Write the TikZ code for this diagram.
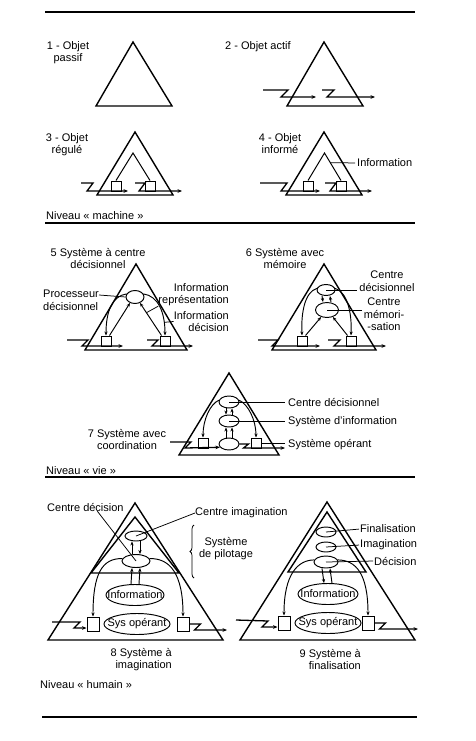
\documentclass[tikz,border=0pt]{standalone}
\usepackage{fontspec}
\setmainfont{Liberation Sans}
\usepackage{tikz}
\usetikzlibrary{arrows.meta,shapes.geometric,decorations.pathreplacing}

\begin{document}
\begin{tikzpicture}[
  x=1pt,y=-1pt,
  tri/.style={draw,line width=1.4pt,line join=miter},
  rulebar/.style={line width=1.6pt},
  flow/.style={line width=1.3pt,-{Stealth[length=4.5pt,width=3.6pt]}},
  link/.style={line width=.95pt,-{Stealth[length=4pt,width=3.2pt]}},
  lead/.style={line width=.75pt},
  cell/.style={draw,fill=white,line width=1pt,inner sep=0pt,
    minimum width=10pt,minimum height=10pt},
  bubble/.style={draw,ellipse,fill=white,line width=.95pt,inner sep=0pt},
  txt/.style={font=\fontsize{11}{12.5}\selectfont,inner sep=0pt}
]
  \useasboundingbox (0,0) rectangle (476,741);
  \fill[white] (0,0) rectangle (476,741);
  \draw[rulebar] (45,12) -- (415,12);

  % 1 - objet passif
  \node[txt,align=center,anchor=north] (t1) at (68,41) {1 - Objet\\passif};
  \draw[tri] (133,42) -- (172,106) -- (96,106) -- cycle;

  % 2 - objet actif
  \node[txt,anchor=north west] (t2) at (225,41) {2 - Objet actif};
  \draw[tri] (324,42) -- (363,106) -- (287,106) -- cycle;
  \draw[flow] (263,90) -- (288,90) -- (281,97) -- (316,97);
  \draw[flow] (322,90) -- (334,90) -- (327,97) -- (375,97);

  % 3 - objet regule
  \node[txt,align=center,anchor=north] (t3) at (67,133) {3 - Objet\\régulé};
  \draw[tri] (135,132) -- (173,195) -- (97,195) -- cycle;
  \node[cell] (r3a) at (116,186) {};
  \node[cell] (r3b) at (150,186) {};
  \draw[line width=1pt] (r3a.north) -- (133,153) -- (r3b.north);
  \draw[flow] (81,183) -- (93,183) -- (87,191) -- (128,191);
  \draw[flow] (135,183) -- (145,183) -- (139,191) -- (182,191);

  % 4 - objet informe
  \node[txt,align=center,anchor=north] (t4) at (280,133) {4 - Objet\\informé};
  \draw[tri] (324,132) -- (362,195) -- (286,195) -- cycle;
  \node[cell] (r4a) at (308,186) {};
  \node[cell] (r4b) at (341,186) {};
  \draw[line width=1pt] (r4a.north) -- (324.5,153) -- (r4b.north);
  \path (324.5,153) -- (r4b.north) coordinate[pos=.35] (i4);
  \node[txt,anchor=west] (l4) at (357,163) {Information};
  \draw[lead,shorten >=2pt] (i4) -- (l4.west);
  \draw[flow] (260,183) -- (287,183) -- (281,191) -- (320,191);
  \draw[flow] (325,183) -- (336,183) -- (330,191) -- (372,191);

  \node[txt,anchor=base west] (lv1) at (46,219) {Niveau «~machine~»};
  \draw[rulebar,line width=2pt] (45,223) -- (415,223);

  % 5 - centre decisionnel
  \node[txt,align=center,anchor=north] (t5) at (98,248) {5 Système à centre\\décisionnel};
  \draw[tri] (136,264) -- (187,350) -- (85,350) -- cycle;
  \node[bubble,minimum width=18pt,minimum height=13pt] (pd5) at (135,297) {};
  \node[cell] (oa5) at (106,341) {};
  \node[cell] (ob5) at (165,341) {};
  \draw[link] (pd5.160) .. controls (112,296) and (106,312) .. (oa5.north);
  \draw[link] (pd5.20) .. controls (158,296) and (165,312) .. (ob5.north)
    coordinate[pos=.8] (dz5);
  \draw[link] ([xshift=-2pt]oa5.north east) -- (pd5.230);
  \draw[link] ([xshift=2pt]ob5.north west) -- (pd5.310) coordinate[pos=.7] (rp5);
  \node[txt,align=left,anchor=north east] (pl5) at (99,290) {Processeur\\décisionnel};
  \draw[lead] ([yshift=-5pt]pl5.north east) -- (pd5.west);
  \node[txt,align=right,anchor=north east] (rl5) at (229,283) {Information\\représentation};
  \draw[lead] (rl5.south west) -- (rp5);
  \node[txt,align=right,anchor=north east] (dl5) at (229,311) {Information\\décision};
  \draw[lead] (dz5) -- (dl5.west);
  \draw[flow] (67,340) -- (88,340) -- (82,346) -- (123,346);
  \draw[flow] (147,340) -- (158,340) -- (152,346) -- (193,346);

  % 6 - memoire
  \node[txt,align=center,anchor=north] (t6) at (285,248) {6 Système avec\\mémoire};
  \draw[tri] (324,264) -- (376,350) -- (272,350) -- cycle;
  \node[bubble,minimum width=18pt,minimum height=11pt] (cd6) at (326,290) {};
  \node[bubble,minimum width=23pt,minimum height=15pt] (cm6) at (327,310) {};
  \node[cell] (oa6) at (302,341) {};
  \node[cell] (ob6) at (351,341) {};
  \draw[link] ([xshift=-4pt]cd6.south) -- ([xshift=-4pt]cm6.north);
  \draw[link] ([xshift=4pt]cm6.north) -- ([xshift=4pt]cd6.south);
  \draw[link] (cd6.170) .. controls (305,292) and (301,312) .. (oa6.north);
  \draw[link] (cd6.10) .. controls (347,292) and (352,312) .. (ob6.north);
  \draw[link] ([xshift=-2pt]oa6.north east) -- (cm6.230);
  \draw[link] ([xshift=2pt]ob6.north west) -- (cm6.310);
  \node[txt,align=center,anchor=north] (cl6) at (387,271) {Centre\\décisionnel};
  \draw[lead,shorten >=2pt] (cd6.center) -- (cd6.center -| cl6.west);
  \node[txt,align=center,anchor=north] (ml6) at (384,298) {Centre\\mémori-\\-sation};
  \draw[lead,shorten >=2pt] (cm6.center) -- (cm6.center -| ml6.west);
  \draw[flow] (258,340) -- (278,340) -- (272,346) -- (320,346);
  \draw[flow] (328,340) -- (340,340) -- (334,346) -- (386,346);

  % 7 - coordination
  \node[txt,align=center,anchor=north] (t7) at (127,429) {7 Système avec\\coordination};
  \draw[tri] (229,373) -- (279,455) -- (179,455) -- cycle;
  \node[bubble,minimum width=20pt,minimum height=12pt] (cd7) at (229,402) {};
  \node[bubble,minimum width=20pt,minimum height=12pt] (si7) at (229,421) {};
  \node[bubble,minimum width=20pt,minimum height=12pt] (so7) at (229,444) {};
  \node[cell] (oa7) at (203,443) {};
  \node[cell] (ob7) at (256,443) {};
  \draw[link] ([xshift=-3pt]cd7.south) -- ([xshift=-3pt]si7.north);
  \draw[link] ([xshift=3pt]si7.north) -- ([xshift=3pt]cd7.south);
  \draw[link] ([xshift=-3pt]so7.north) -- ([xshift=-3pt]si7.south);
  \draw[link] ([xshift=3pt]so7.north) -- ([xshift=3pt]si7.south);
  \draw[link] (cd7.170) .. controls (210,404) and (203,420) .. (oa7.north);
  \draw[link] (cd7.10) .. controls (248,404) and (256,420) .. (ob7.north);
  \node[txt,anchor=west] (cl7) at (288,402) {Centre décisionnel};
  \node[txt,anchor=west] (il7) at (288,422) {Système d’information};
  \node[txt,anchor=west] (ol7) at (288,445) {Système opérant};
  \draw[lead,shorten >=3pt] (cd7.center) -- (cd7.center -| cl7.west);
  \draw[lead,shorten >=3pt] (si7.center) -- (si7.center -| il7.west);
  \draw[lead,shorten >=3pt] (ob7.east) -- (ob7.east -| ol7.west);
  \draw[flow] (170,442) -- (191,442) -- (185,448) -- (so7.200);
  \draw[flow] (so7.east) -- ++(9,0) -- ++(-5,4) -- (285,448);

  \node[txt,anchor=base west] (lv2) at (46,474) {Niveau «~vie~»};
  \draw[rulebar] (45,477) -- (415,477);

  % 8 - imagination
  \draw[tri] (135,503) -- (223,640) -- (48,640) -- cycle;
  \draw[tri] (135,517) -- (179,573) -- (91,573) -- cycle;
  \node[bubble,minimum width=22pt,minimum height=10pt] (ci8) at (136,536) {};
  \node[bubble,minimum width=28pt,minimum height=13pt] (cd8) at (136,561) {};
  \node[bubble,minimum width=58pt,minimum height=21pt] (in8) at (135,595) {};
  \node[txt] (in8t) at (in8) {Information};
  \node[bubble,minimum width=66pt,minimum height=21pt] (so8) at (137,624) {};
  \node[txt] (so8t) at (so8) {Sys opérant};
  \node[cell,minimum width=12pt,minimum height=14pt] (oa8) at (93,624) {};
  \node[cell,minimum width=12pt,minimum height=14pt] (ob8) at (183,624) {};
  \draw[link] ([xshift=-4pt]cd8.north) -- ([xshift=-4pt]ci8.south);
  \draw[link] ([xshift=4pt]ci8.south) -- ([xshift=4pt]cd8.north);
  \draw[link] ([xshift=-4pt]in8.north) -- ([xshift=-4pt]cd8.south);
  \draw[link] ([xshift=4pt]in8.north) -- ([xshift=4pt]cd8.south);
  \draw[link] (cd8.170) .. controls (102,558) and (93,574) .. (oa8.north);
  \draw[link] (cd8.10) .. controls (170,558) and (183,574) .. (ob8.north);
  \node[txt,anchor=west] (cl8) at (47,507) {Centre décision};
  \draw[lead] ([xshift=12pt]cl8.south) -- (cd8.center);
  \node[txt,anchor=west] (il8) at (195,513) {Centre imagination};
  \draw[lead] (il8.west) -- (ci8.center);
  \draw[lead,decorate,decoration={brace,amplitude=4pt}] (194,578) -- (194,525);
  \node[txt,align=center,anchor=north] (pl8) at (226,537) {Système\\de pilotage};
  \draw[flow] (52,622) -- (80,622) -- (74,628) -- ([yshift=-4pt]oa8.west);
  \draw[flow] (ob8.east) -- ++(11,0) -- ++(-6,6) -- (227,630);
  \node[txt,align=right,anchor=north east] (t8) at (172,648) {8 Système à\\imagination};

  % 9 - finalisation
  \draw[tri] (327,502) -- (415,640) -- (240,640) -- cycle;
  \draw[tri] (327,512) -- (366,572) -- (288,572) -- cycle;
  \node[bubble,minimum width=20pt,minimum height=10pt] (fi9) at (326,532) {};
  \node[bubble,minimum width=20pt,minimum height=10pt] (im9) at (326,547) {};
  \node[bubble,minimum width=24pt,minimum height=12pt] (de9) at (326,562) {};
  \node[bubble,minimum width=60pt,minimum height=21pt] (in9) at (328,594) {};
  \node[txt] (in9t) at (in9) {Information};
  \node[bubble,minimum width=66pt,minimum height=21pt] (so9) at (328,623) {};
  \node[txt] (so9t) at (so9) {Sys opérant};
  \node[cell,minimum width=12pt,minimum height=14pt] (oa9) at (284,623) {};
  \node[cell,minimum width=12pt,minimum height=14pt] (ob9) at (368,623) {};
  \draw[link] ([xshift=-4pt]de9.south) -- ([xshift=-4pt]in9.north);
  \draw[link] ([xshift=4pt]in9.north) -- ([xshift=4pt]de9.south);
  \draw[link] (de9.170) .. controls (298,560) and (284,574) .. (oa9.north);
  \draw[link] (de9.10) .. controls (356,560) and (368,574) .. (ob9.north);
  \node[txt,anchor=west] (fl9) at (360,529) {Finalisation};
  \node[txt,anchor=west] (ml9) at (360,545) {Imagination};
  \node[txt,anchor=west] (dl9) at (374,561) {Décision};
  \draw[lead,shorten >=1pt] (fi9.center) -- (fl9.west);
  \draw[lead,shorten >=1pt] (im9.center) -- (ml9.west);
  \draw[lead,shorten >=1pt] (de9.center) -- (dl9.west);
  \draw[flow] (236,620) -- (268,621) -- (262,627) -- ([yshift=-4pt]oa9.west);
  \draw[flow] (ob9.east) -- ++(11,0) -- ++(-6,6) -- (418,629);
  \node[txt,align=right,anchor=north east] (t9) at (361,649) {9 Système à\\finalisation};

  \node[txt,anchor=base west] (lv3) at (40,688) {Niveau «~humain~»};
  \draw[rulebar] (42,717) -- (417,717);
\end{tikzpicture}
\end{document}
